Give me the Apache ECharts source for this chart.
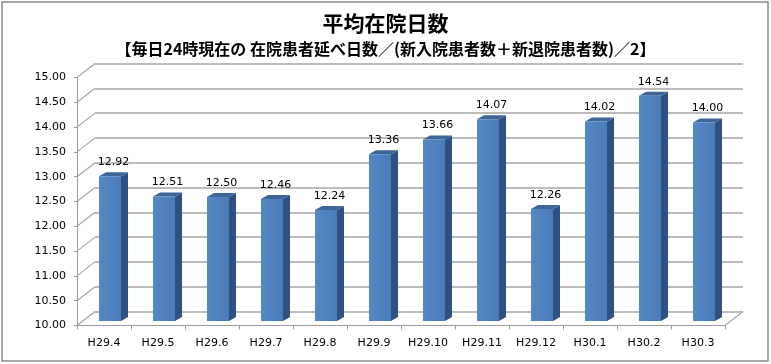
<!DOCTYPE html>
<html>
<head>
<meta charset="utf-8">
<script src="https://cdn.jsdelivr.net/npm/echarts@6/dist/echarts.min.js"></script>
<style>
html,body{margin:0;padding:0;background:#fff;}
#c{width:771px;height:364px;}
</style>
</head>
<body>
<div id="c"></div>
<script>
var titleText = '平均在院日数';
var subtitleText = '【毎日24時現在の 在院患者延べ日数／(新入院患者数＋新退院患者数)／2】';
var categories = ['H29.4','H29.5','H29.6','H29.7','H29.8','H29.9','H29.10','H29.11','H29.12','H30.1','H30.2','H30.3'];
var values = [12.92, 12.51, 12.50, 12.46, 12.24, 13.36, 13.66, 14.07, 12.26, 14.02, 14.54, 14.00];
var yMin = 10, yMax = 15, yStep = 0.5;

var yTicks = [];
for (var t = yMin; t <= yMax + 1e-9; t += yStep) yTicks.push(+t.toFixed(2));

// 3D look parameters (pixels)
var DEPTH_DX = 18, DEPTH_DY = -14;   // back wall offset
var BAR_DX = 6, BAR_DY = -4.5;       // bar plane offset
var BAR_W = 22, SIDE_DX = 7, SIDE_DY = -4;

var chart = echarts.init(document.getElementById('c'), null, {renderer: 'canvas'});

var frontLeft = 77, frontRight = 725, frontTop = 77.5, frontBottom = 325.5;

chart.setOption({
  animation: false,
  backgroundColor: '#ffffff',
  title: [
    {text: titleText, left: 'center', top: 8,
     textStyle: {fontFamily: 'Noto Sans CJK JP', fontSize: 21, fontWeight: 'bold', color: '#000'}},
    {text: subtitleText, left: 'center', top: 36,
     textStyle: {fontFamily: 'Noto Sans CJK JP', fontSize: 16, fontWeight: 'bold', color: '#000'}}
  ],
  graphic: [
    {type: 'rect', shape: {x: 2, y: 2, width: 766, height: 359}, z: 100,
     style: {fill: null, stroke: '#8a8a8a', lineWidth: 1.5}}
  ],
  grid: [
    {left: frontLeft, right: 771 - frontRight, top: frontTop, bottom: 364 - frontBottom},
    {left: frontLeft + DEPTH_DX, right: 771 - frontRight - DEPTH_DX, top: frontTop + DEPTH_DY, bottom: 364 - frontBottom - DEPTH_DY}
  ],
  xAxis: [
    {type: 'category', gridIndex: 0, data: categories,
     axisLine: {show: true, lineStyle: {color: '#9a9a9a', width: 1}},
     axisTick: {show: true, length: 4, lineStyle: {color: '#9a9a9a'}},
     axisLabel: {fontFamily: 'DejaVu Sans', fontSize: 11, color: '#000', margin: 12}},
    {type: 'category', gridIndex: 1, data: categories, show: false}
  ],
  yAxis: [
    {type: 'value', gridIndex: 0, min: yMin, max: yMax, interval: yStep,
     axisLine: {show: true, lineStyle: {color: '#9a9a9a', width: 1}},
     axisTick: {show: true, length: 3, lineStyle: {color: '#9a9a9a'}},
     splitLine: {show: false},
     axisLabel: {fontFamily: 'DejaVu Sans', fontSize: 11, color: '#000', margin: 11,
       formatter: function (v) { return v.toFixed(2); }}},
    {type: 'value', gridIndex: 1, min: yMin, max: yMax, interval: yStep,
     axisLine: {show: false}, axisTick: {show: false}, axisLabel: {show: false},
     splitLine: {show: true, lineStyle: {color: '#a6a6a6', width: 1.5}}}
  ],
  series: [
    {
      type: 'custom', xAxisIndex: 0, yAxisIndex: 0, z: 1,
      data: yTicks.map(function (v) { return [0, v]; }),
      renderItem: function (params, api) {
        var cs = params.coordSys;
        var p = api.coord([0, api.value(1)]);
        var x0 = cs.x, y0 = p[1];
        var children = [{
          type: 'line',
          shape: {x1: x0, y1: y0, x2: x0 + DEPTH_DX, y2: y0 + DEPTH_DY},
          style: {stroke: '#a6a6a6', lineWidth: 1.2}
        }];
        if (params.dataIndex === 0) {
          var xr = cs.x + cs.width;
          children.push({
            type: 'line',
            shape: {x1: xr, y1: y0, x2: xr + DEPTH_DX, y2: y0 + DEPTH_DY},
            style: {stroke: '#a6a6a6', lineWidth: 1.2}
          });
        }
        return {type: 'group', children: children};
      }
    },
    {
      type: 'custom', xAxisIndex: 0, yAxisIndex: 0, z: 5,
      data: values.map(function (v, i) { return [i, v]; }),
      renderItem: function (params, api) {
        var i = api.value(0), v = api.value(1);
        var base = api.coord([i, yMin]);
        var top = api.coord([i, v]);
        var cx = base[0] + BAR_DX;
        var left = cx - BAR_W / 2, right = cx + BAR_W / 2;
        var yb = base[1] + BAR_DY, yt = top[1] + BAR_DY;
        return {
          type: 'group',
          children: [
            {type: 'polygon', shape: {points: [[right, yt], [right + SIDE_DX, yt + SIDE_DY], [right + SIDE_DX, yb + SIDE_DY], [right, yb]]},
             style: {fill: '#2f5182'}},
            {type: 'polygon', shape: {points: [[left, yt], [left + SIDE_DX, yt + SIDE_DY], [right + SIDE_DX, yt + SIDE_DY], [right, yt]]},
             style: {fill: '#3d6598'}},
            {type: 'rect', shape: {x: left, y: yt, width: BAR_W, height: yb - yt},
             style: {fill: new echarts.graphic.LinearGradient(0, 0, 1, 0, [
               {offset: 0, color: '#5587c4'}, {offset: 1, color: '#4a7cb9'}])}},
            {type: 'text', x: (left + right + SIDE_DX) / 2, y: yt + SIDE_DY - 10,
             style: {text: v.toFixed(2), fontFamily: 'DejaVu Sans', fontSize: 11, fill: '#000',
                     align: 'center', verticalAlign: 'middle'}}
          ]
        };
      }
    }
  ]
});
</script>
</body>
</html>
